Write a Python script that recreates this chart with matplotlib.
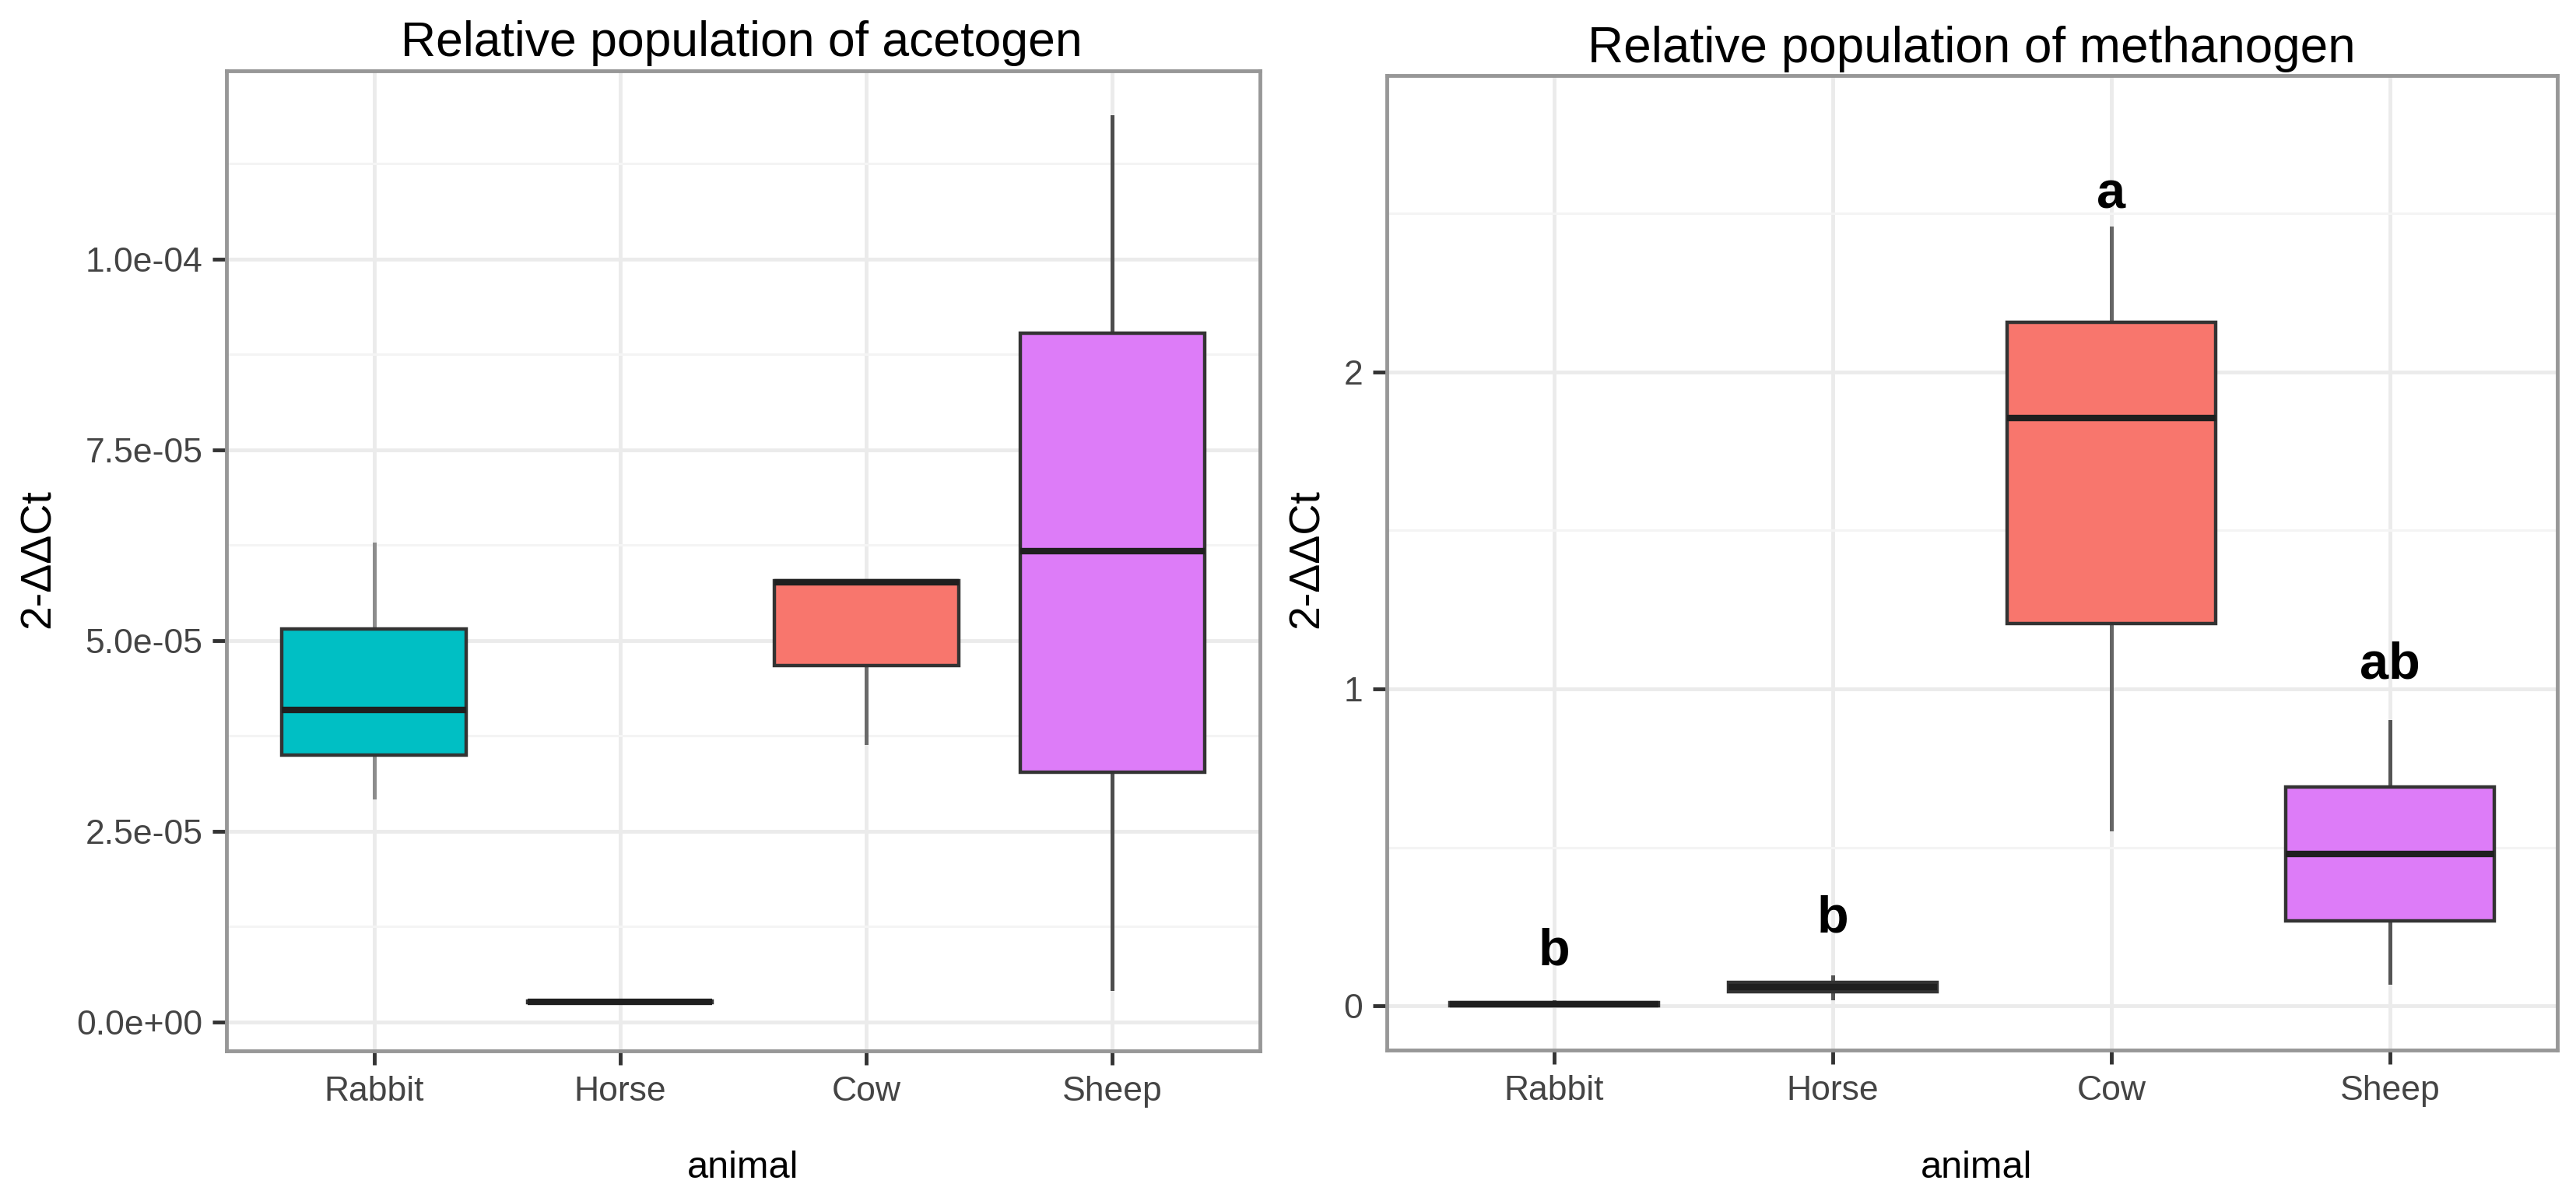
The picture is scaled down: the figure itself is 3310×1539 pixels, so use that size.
import matplotlib
matplotlib.use("Agg")
import matplotlib.pyplot as plt
from matplotlib.ticker import MultipleLocator

plt.rcParams['font.family'] = ['Liberation Sans', 'DejaVu Sans']

# ---------------- data ----------------
animals = ["Rabbit", "Horse", "Cow", "Sheep"]

# acetogen (2-ΔΔCt) box statistics
ace_whislo = [2.95e-5, 0.255e-5, 3.66e-5, 0.44e-5]
ace_q1     = [3.50e-5, 0.255e-5, 4.67e-5, 3.27e-5]
ace_med    = [4.09e-5, 0.265e-5, 5.76e-5, 6.17e-5]
ace_q3     = [5.15e-5, 0.275e-5, 5.79e-5, 9.03e-5]
ace_whishi = [6.26e-5, 0.275e-5, 5.79e-5, 11.87e-5]

# methanogen (2-ΔΔCt) box statistics
met_whislo = [0.000, 0.025, 0.558, 0.074]
met_q1     = [0.000, 0.044, 1.206, 0.268]
met_med    = [0.005, 0.059, 1.855, 0.479]
met_q3     = [0.010, 0.073, 2.157, 0.690]
met_whishi = [0.012, 0.091, 2.455, 0.897]

# significance letters and their heights
met_letters = ["b", "b", "a", "ab"]
met_letter_y = [0.128, 0.231, 2.516, 1.034]

ace_yticks = [0.0, 2.5e-5, 5.0e-5, 7.5e-5, 1.0e-4]
ace_yticklabels = ["0.0e+00", "2.5e-05", "5.0e-05", "7.5e-05", "1.0e-04"]
met_yticks = [0, 1, 2]
met_yticklabels = ["0", "1", "2"]

fills = ["#00BFC4", "#2A2A2A", "#F8766D", "#DD7CF8"]

# ---------------- figure ----------------
W, H = 3310, 1539
fig = plt.figure(figsize=(W / 100, H / 100), dpi=100)
fig.patch.set_facecolor("white")

axL = fig.add_axes([291 / W, 1 - 1350 / H, 1328 / W, 1259 / H])
axR = fig.add_axes([1782 / W, 1 - 1349 / H, 1504 / W, 1252 / H])

positions = [1, 2, 3, 4]


def make_stats(lo, q1, med, q3, hi):
    return [dict(whislo=a, q1=b, med=c, q3=d, whishi=e, label=n)
            for a, b, c, d, e, n in zip(lo, q1, med, q3, hi, animals)]


def draw(ax, stats, whisker_colors):
    res = ax.bxp(stats, positions=positions, widths=0.75, patch_artist=True,
                 showcaps=False, showfliers=False,
                 boxprops=dict(edgecolor="#333333", linewidth=3.2),
                 medianprops=dict(color="#1f1f1f", linewidth=6, solid_capstyle="butt"),
                 whiskerprops=dict(color="#555555", linewidth=3.6))
    for patch, c in zip(res["boxes"], fills):
        patch.set_facecolor(c)
        patch.set_zorder(3)
    for m in res["medians"]:
        m.set_zorder(4)
    for i, w in enumerate(res["whiskers"]):
        w.set_color(whisker_colors[i // 2])
        w.set_zorder(2)
    return res


def style(ax, ylim, yticks, ylabels, minor):
    ax.set_xlim(0.4, 4.6)
    ax.set_ylim(*ylim)
    ax.set_xticks(positions)
    ax.set_xticklabels(animals)
    ax.set_yticks(yticks)
    ax.set_yticklabels(ylabels)
    ax.yaxis.set_minor_locator(MultipleLocator(minor))
    ax.set_axisbelow(True)
    ax.grid(True, which="major", color="#EBEBEB", linewidth=3.5)
    ax.grid(True, which="minor", axis="y", color="#F4F4F4", linewidth=2.2)
    for s in ax.spines.values():
        s.set_color("#979797")
        s.set_linewidth(3.5)
    ax.tick_params(which="major", direction="out", length=13, width=3.5,
                   color="#333333", labelsize=32, labelcolor="#444444")
    ax.tick_params(axis="y", pad=9)
    ax.tick_params(axis="x", pad=10)
    ax.tick_params(which="minor", length=0)


draw(axL, make_stats(ace_whislo, ace_q1, ace_med, ace_q3, ace_whishi),
     ["#8C8C8C", "#555555", "#6A6A6A", "#4D4D4D"])
draw(axR, make_stats(met_whislo, met_q1, met_med, met_q3, met_whishi),
     ["#555555", "#555555", "#666666", "#555555"])

style(axL, (-3.78e-6, 1.2469e-4), ace_yticks, ace_yticklabels, 1.25e-5)
style(axR, (-0.140, 2.936), met_yticks, met_yticklabels, 0.5)

for p, lab, y in zip(positions, met_letters, met_letter_y):
    axR.text(p, y, lab, ha="center", va="baseline", fontsize=48,
             fontweight="bold", color="black", zorder=6)

# titles and axis titles
fig.text(953 / W, 1 - 72 / H, "Relative population of acetogen",
         ha="center", va="baseline", fontsize=45, color="black")
fig.text(2533 / W, 1 - 80 / H, "Relative population of methanogen",
         ha="center", va="baseline", fontsize=46, color="black")
fig.text(50 / W, 1 - 718 / H, "2-ΔΔCt", rotation=90, ha="center",
         va="center", fontsize=40, color="black")
fig.text(1680 / W, 1 - 718 / H, "2-ΔΔCt", rotation=90, ha="center",
         va="center", fontsize=40, color="black")
fig.text(955 / W, 1 - 1513 / H, "animal", ha="center", va="baseline",
         fontsize=35, color="black")
fig.text(2540 / W, 1 - 1513 / H, "animal", ha="center", va="baseline",
         fontsize=35, color="black")

fig.savefig("out.png", dpi=100, facecolor="white")
